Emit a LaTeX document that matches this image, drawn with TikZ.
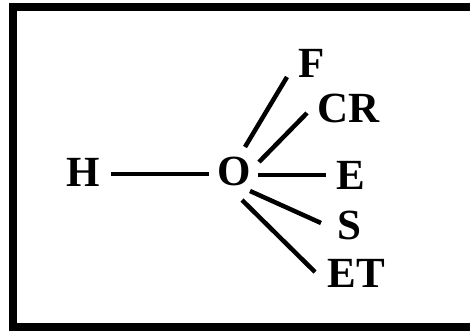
\documentclass[tikz,border=0pt]{standalone}
\usepackage{fontspec}
\setmainfont{Liberation Serif}
\usetikzlibrary{calc}
\begin{document}
\begin{tikzpicture}[x=1pt,y=1pt,
  lbl/.style={inner sep=0pt,font=\fontsize{43}{43}\selectfont\bfseries},
  bond/.style={line width=4.5pt}]
\useasboundingbox (0,0) rectangle (470,333);
\clip (0,0) rectangle (470,333);
\draw[line width=8.5pt] (500,326) -- (13,326) -- (13,6) -- (500,6);
\node[lbl] (H) at (83,161) {H};
\node[lbl] (O) at (234,162) {O};
\node[lbl] (F) at (312,270) {F};
\node[lbl] (CR) at (349,225) {CR};
\node[lbl] (E) at (351,158) {E};
\node[lbl] (S) at (349,108) {S};
\node[lbl] (ET) at (356,60) {ET};
\draw[bond] ($(H)+(28,-2)$) -- ($(O)+(-25,-3)$);
\draw[bond] ($(O)+(11,24)$) -- ($(F)+(-25,-14)$);
\draw[bond] ($(O)+(25,9)$) -- ($(CR)+(-42,-5)$);
\draw[bond] ($(O)+(24,-4)$) -- ($(E)+(-25,0)$);
\draw[bond] ($(O)+(16,-20)$) -- ($(S)+(-28,2)$);
\draw[bond] ($(O)+(8,-29)$) -- ($(ET)+(-41,1)$);
\end{tikzpicture}
\end{document}
